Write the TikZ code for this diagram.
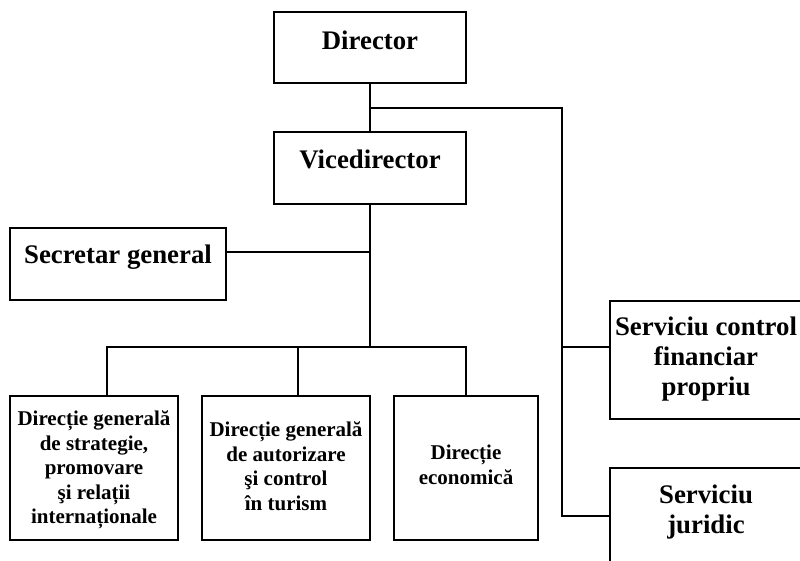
\documentclass[tikz,border=0pt]{standalone}
\usepackage{fontspec}
\setmainfont{Liberation Serif}
\begin{document}
\begin{tikzpicture}[x=1pt,y=-1pt,
  box/.style={draw=black,line width=1.8pt,fill=white,inner sep=0pt},
  big/.style={font=\fontsize{26.8}{30}\selectfont\bfseries,align=center,inner sep=0pt},
  small/.style={font=\fontsize{21}{24.5}\selectfont\bfseries,align=center,inner sep=0pt},
  link/.style={draw=black,line width=1.4pt,line cap=rect}]
\useasboundingbox (0,0) rectangle (800,560);
\clip (0,0) rectangle (800,560);
\fill[white] (0,0) rectangle (800,560);

% trunk and branches
\coordinate (split) at (370,108);
\coordinate (east) at (562,108);
\coordinate (hubsc) at (562,347);
\coordinate (hubsj) at (562,516);
\coordinate (secj) at (370,252);
\coordinate (bar) at (370,347);
\coordinate (barl) at (107,347);
\coordinate (barm) at (298,347);
\coordinate (barr) at (466,347);

% boxes
\node[box,minimum width=192pt,minimum height=71pt] (dir) at (370,47.5) {};
\node[box,minimum width=192pt,minimum height=72pt] (vice) at (370,168) {};
\node[box,minimum width=216pt,minimum height=72pt] (sec) at (118,264) {};
\node[box,minimum width=168pt,minimum height=144pt] (d1) at (94,468) {};
\node[box,minimum width=168pt,minimum height=144pt] (d2) at (286,468) {};
\node[box,minimum width=144pt,minimum height=144pt] (d3) at (466,468) {};
\node[box,minimum width=192pt,minimum height=118pt] (sc) at (706,360) {};
\node[box,minimum width=192pt,minimum height=124pt] (sj) at (706,530) {};

% connectors
\draw[link] (dir.south) -- (vice.north);
\draw[link] (split) -- (east) -- (hubsj);
\draw[link] (hubsc) -- (hubsc -| sc.west);
\draw[link] (hubsj) -- (hubsj -| sj.west);
\draw[link] (vice.south) -- (bar);
\draw[link] (secj -| sec.east) -- (secj);
\draw[link] (barl |- d1.north) -- (barl) -- (barr) -- (d3.north);
\draw[link] (barm) -- (barm |- d2.north);

% labels
\node[big,anchor=base] (tdir) at (370,49) {Director};
\node[big,anchor=base] (tvice) at (370,168) {Vicedirector};
\node[big,anchor=base] (tsec) at (118,263) {Secretar general};
\node[big] (tsc) at (706,359) {Serviciu control\\financiar\\propriu};
\node[big] (tsj) at (706,512) {Serviciu\\juridic};
\node[small] (td1) at (94,470) {Direcție generală\\de strategie,\\promovare\\şi relații\\internaționale};
\node[small] (td2) at (286,466) {Direcție generală\\de autorizare\\şi control\\în turism};
\node[small] (td3) at (466,465) {Direcție\\economică};
\end{tikzpicture}
\end{document}
